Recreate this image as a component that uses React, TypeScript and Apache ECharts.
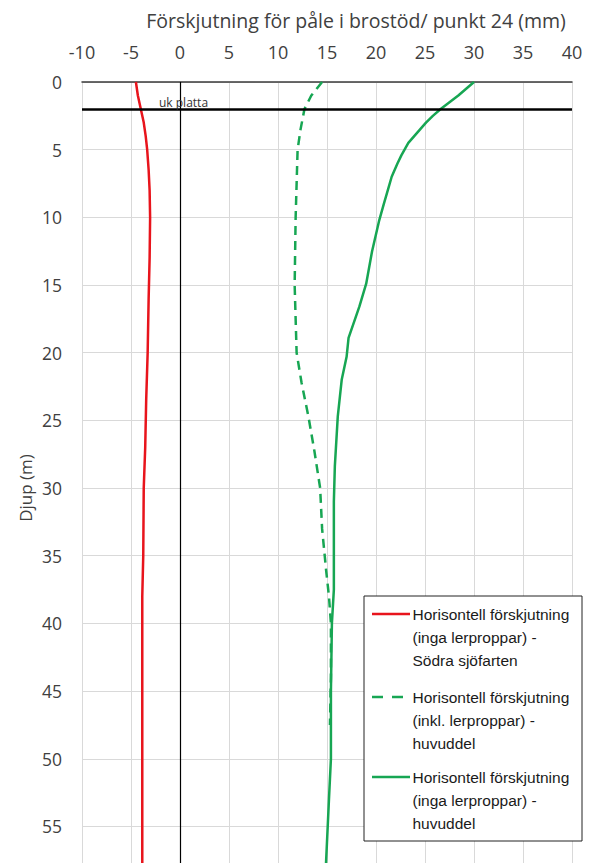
import React, { useEffect, useRef } from "react";
import * as echarts from "echarts";

const xTicksMin = -10;
const xTicksMax = 40;
const depthMax = 57.7;

const redDepth = [0, 1, 2, 3, 4, 5, 6.5, 8, 10, 13, 16, 20, 23.5, 27, 30, 35, 38, 45, 57.7];
const redDisp = [-4.5, -4.3, -4.0, -3.7, -3.5, -3.35, -3.2, -3.1, -3.05, -3.1, -3.2, -3.3, -3.45, -3.55, -3.7, -3.75, -3.85, -3.85, -3.85];

const dashDepth = [0, 1, 2, 3.5, 5, 7.5, 10, 15, 20, 22.2, 24.7, 27.2, 30, 33, 36, 38, 40, 44, 47.5];
const dashDisp = [14.5, 13.4, 12.7, 12.3, 12.0, 11.9, 11.8, 11.7, 11.9, 12.4, 13.1, 13.7, 14.3, 14.5, 14.9, 15.2, 15.4, 15.4, 15.3];

const solidDepth = [0, 0.5, 1, 1.5, 2, 2.5, 3, 3.5, 4, 4.5, 5.4, 6, 7, 8, 9, 10.3, 12.5, 14.9, 16.6, 18.9, 20.3, 22, 24.7, 28.4, 31, 37.5, 40, 45, 50, 53, 57.7];
const solidDisp = [30.0, 29.2, 28.4, 27.5, 26.6, 25.8, 25.1, 24.5, 23.9, 23.3, 22.6, 22.2, 21.6, 21.2, 20.8, 20.3, 19.6, 19.0, 18.3, 17.2, 17.0, 16.5, 16.1, 15.8, 15.7, 15.7, 15.5, 15.4, 15.4, 15.2, 14.9];

const plattaDepth = 2;
const plattaLabel = "uk platta";

const seriesNames = [
  "Horisontell förskjutning\n(inga lerproppar) -\nSödra sjöfarten",
  "Horisontell förskjutning\n(inkl. lerproppar) -\nhuvuddel",
  "Horisontell förskjutning\n(inga lerproppar) -\nhuvuddel",
];

const xTitle = "Förskjutning för påle i brostöd/ punkt 24 (mm)";
const yTitle = "Djup (m)";

const RED = "#e8141c";
const GREEN = "#17a653";
const AXIS_FONT = "Open Sans";
const LEG_FONT = "Liberation Sans";

function zip(xs: number[], ys: number[]) {
  return xs.map((x, i) => [x, ys[i]]);
}

export default function App() {
  const ref = useRef<HTMLDivElement>(null);
  useEffect(() => {
    if (!ref.current) return;
    const chart = echarts.init(ref.current, undefined, { renderer: "svg" });
    const legTop = 596;
    const legLeft = 364;
    const rowY = [614, 697, 777];
    const lh = 23;
    chart.setOption({
      animation: false,
      grid: { left: 82, right: 19, top: 82, bottom: 0 },
      xAxis: {
        type: "value",
        position: "top",
        min: xTicksMin,
        max: xTicksMax,
        interval: 5,
        axisLine: { show: true, lineStyle: { color: "#3a3a3a", width: 1.5 } },
        axisTick: { show: false },
        axisLabel: { margin: 21, fontSize: 18, color: "#404040", fontFamily: AXIS_FONT },
        splitLine: { show: true, lineStyle: { color: "#d9d9d9", width: 1 } },
      },
      yAxis: {
        type: "value",
        inverse: true,
        min: 0,
        max: depthMax,
        interval: 5,
        axisLine: { show: true, lineStyle: { color: "#d0d0d0", width: 1 } },
        axisTick: { show: false },
        axisLabel: {
          margin: 20,
          fontSize: 17.5,
          color: "#404040",
          fontFamily: AXIS_FONT,
          formatter: (v: number) => (Math.abs(v % 5) < 1e-9 ? String(v) : ""),
        },
        splitLine: { show: true, lineStyle: { color: "#d9d9d9", width: 1 } },
      },
      series: [
        {
          name: seriesNames[0],
          type: "line",
          data: zip(redDisp, redDepth),
          showSymbol: false,
          symbol: "none",
          lineStyle: { color: RED, width: 2.5 },
          itemStyle: { color: RED },
          z: 3,
          markLine: {
            silent: true,
            symbol: "none",
            animation: false,
            data: [
              {
                xAxis: 0,
                lineStyle: { color: "#000", width: 1.2, type: "solid" },
                label: { show: false },
              },
              {
                yAxis: plattaDepth,
                lineStyle: { color: "#000", width: 2.6, type: "solid" },
                label: {
                  show: true,
                  position: "insideStartTop",
                  formatter: plattaLabel,
                  fontSize: 12,
                  color: "#333",
                  fontFamily: AXIS_FONT,
                  distance: 1,
                  padding: [0, 0, 0, 76],
                },
              },
            ],
          },
        },
        {
          name: seriesNames[1],
          type: "line",
          data: zip(dashDisp, dashDepth),
          showSymbol: false,
          symbol: "none",
          lineStyle: { color: GREEN, width: 2.5, type: [9, 6] },
          itemStyle: { color: GREEN },
          z: 2,
        },
        {
          name: seriesNames[2],
          type: "line",
          data: zip(solidDisp, solidDepth),
          showSymbol: false,
          symbol: "none",
          lineStyle: { color: GREEN, width: 2.5 },
          itemStyle: { color: GREEN },
          z: 4,
        },
      ],
      graphic: [
        {
          type: "text",
          x: 356,
          y: 20,
          z: 100,
          style: {
            text: xTitle,
            align: "center",
            verticalAlign: "middle",
            fontSize: 19.5,
            fontFamily: AXIS_FONT,
            fill: "#404040",
          },
        },
        {
          type: "text",
          x: 25,
          y: 488,
          z: 100,
          rotation: Math.PI / 2,
          style: {
            text: yTitle,
            align: "center",
            verticalAlign: "middle",
            fontSize: 17,
            fontFamily: AXIS_FONT,
            fill: "#404040",
          },
        },
        {
          type: "rect",
          z: 100,
          shape: { x: legLeft, y: legTop, width: 218, height: 245 },
          style: { fill: "#fff", stroke: "#222", lineWidth: 1 },
        },
        {
          type: "line",
          z: 101,
          shape: { x1: 372, y1: rowY[0], x2: 410, y2: rowY[0] },
          style: { stroke: RED, lineWidth: 2.5 },
        },
        {
          type: "line",
          z: 101,
          shape: { x1: 372, y1: rowY[1], x2: 403, y2: rowY[1] },
          style: { stroke: GREEN, lineWidth: 2.5, lineDash: [11, 9] },
        },
        {
          type: "line",
          z: 101,
          shape: { x1: 372, y1: rowY[2], x2: 410, y2: rowY[2] },
          style: { stroke: GREEN, lineWidth: 2.5 },
        },
        ...seriesNames.map((n, i) => ({
          type: "text",
          z: 101,
          x: 412.5,
          y: rowY[i] - lh / 2,
          style: {
            text: n,
            align: "left",
            verticalAlign: "top",
            fontSize: 15.5,
            lineHeight: lh,
            fontFamily: LEG_FONT,
            fill: "#1a1a1a",
          },
        })),
      ],
    });
    return () => chart.dispose();
  }, []);
  return (
    <div
      ref={ref}
      style={{ position: "absolute", left: 0, top: 0, width: 591, height: 863, background: "#fff" }}
    />
  );
}
